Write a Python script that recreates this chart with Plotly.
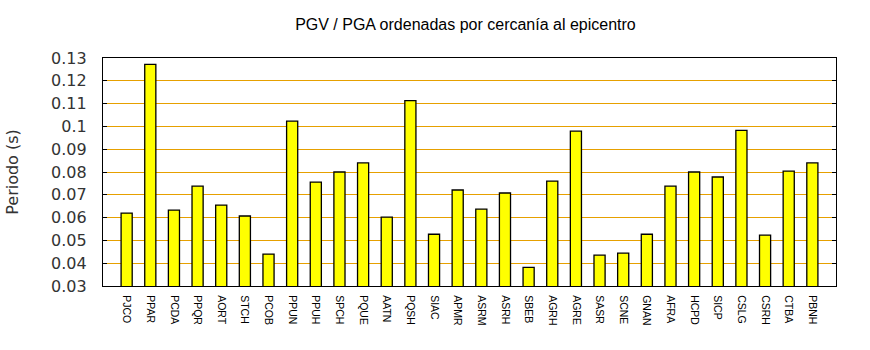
import plotly.graph_objects as go

# Estaciones ordenadas por distancia al epicentro
estaciones = ["PJCO", "PPAR", "PCDA", "PPQR", "AORT", "STCH", "PCOB", "PPUN", "PPUH", "SPCH",
              "PQUE", "AATN", "PQSH", "SIAC", "APMR", "ASRM", "ASRH", "SBEB", "AGRH", "AGRE",
              "SASR", "SCNE", "GNAN", "AFRA", "HCPD", "SICP", "CSLG", "CSRH", "CTBA", "PBNH"]

# Cociente PGV / PGA (s)
periodo = [0.0620, 0.1272, 0.0633, 0.0738, 0.0655, 0.0607, 0.0440, 0.1023, 0.0756, 0.0800,
           0.0840, 0.0602, 0.1113, 0.0527, 0.0721, 0.0637, 0.0708, 0.0382, 0.0760, 0.0979,
           0.0435, 0.0444, 0.0527, 0.0738, 0.0800, 0.0778, 0.0983, 0.0523, 0.0804, 0.0840]

posiciones = list(range(len(estaciones)))

fig = go.Figure(go.Bar(
    x=posiciones,
    y=periodo,
    width=0.47,
    marker=dict(color="#ffff00", line=dict(color="black", width=1.3)),
))

fig.update_layout(
    width=870, height=350,
    margin=dict(l=101, r=34, t=58, b=64),
    paper_bgcolor="white", plot_bgcolor="white",
    showlegend=False,
    title=dict(text="PGV / PGA ordenadas por cercanía al epicentro",
               x=0.535, xanchor="center", y=0.93, yanchor="middle",
               font=dict(family="Liberation Sans, Arial", size=16, color="black")),
    xaxis=dict(
        range=[-1, len(estaciones)],
        tickmode="array", tickvals=posiciones, ticktext=estaciones,
        tickangle=90, ticks="", showgrid=False, zeroline=False,
        ticklabelstandoff=6,
        showline=True, linecolor="black", linewidth=1.2, mirror=True,
        tickfont=dict(family="Liberation Sans, Arial", size=10.5, color="black"),
    ),
    yaxis=dict(
        range=[0.03, 0.13], dtick=0.01, tick0=0.03,
        ticks="inside", ticklen=4, tickcolor="black", tickwidth=1,
        ticklabelstandoff=12,
        showline=True, linecolor="black", linewidth=1.2, mirror="ticks",
        showgrid=True, gridcolor="#e6a000", gridwidth=1, zeroline=False,
        tickfont=dict(family="DejaVu Sans", size=16, color="#333333"),
        title=dict(text="Periodo (s)", standoff=28,
                   font=dict(family="DejaVu Sans", size=16, color="#333333")),
    ),
)

fig.write_html("out.html")
